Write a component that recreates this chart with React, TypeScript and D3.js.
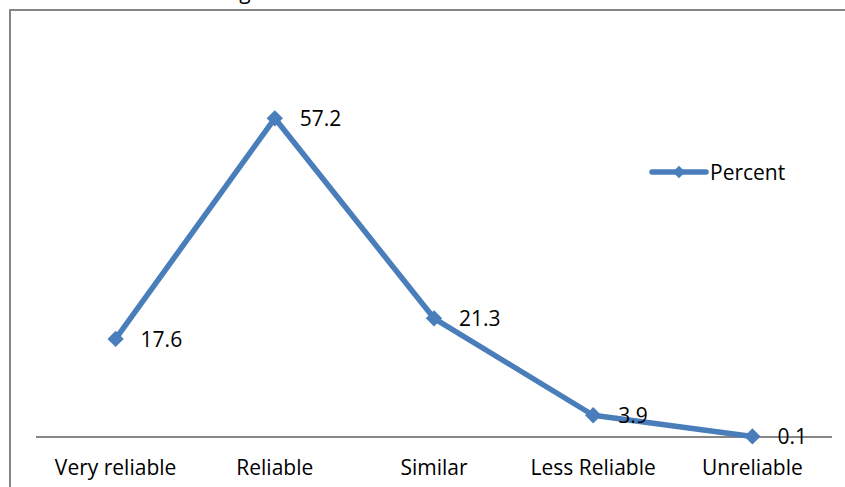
import React from "react";
import * as d3 from "d3";

const categories = ["Very reliable", "Reliable", "Similar", "Less Reliable", "Unreliable"];
const percent = [17.6, 57.2, 21.3, 3.9, 0.1];
const seriesName = "Percent";

const W = 845;
const H = 487;
const BLUE = "#4a7ebb";
const GRAY = "#868686";
const FONT = "'Open Sans', Lato, sans-serif";
const FS = 21;

export default function App() {
  const x = d3.scaleBand<string>().domain(categories).range([36, 832]);
  const y = d3.scaleLinear().domain([0, 70]).range([437, 47]);
  const cx = (c: string) => (x(c) ?? 0) + x.bandwidth() / 2;

  const line = d3
    .line<number>()
    .x((_, i) => cx(categories[i]))
    .y((d) => y(d));

  const diamond = d3.symbol().type(d3.symbolDiamond2).size(170)() as string;

  return (
    <svg
      width={W}
      height={H}
      style={{ position: "absolute", left: 0, top: 0, background: "#fff" }}
      fontFamily={FONT}
    >
      {/* title, clipped by the top edge */}
      <text x={245} y={-1} fontSize={FS} fill="#000" textAnchor="middle">g</text>
      {/* chart frame */}
      <rect x={10} y={10} width={W + 20} height={H + 20} fill="none" stroke={GRAY} strokeWidth={2} />
      {/* category axis */}
      <line x1={x.range()[0]} x2={x.range()[1]} y1={y(0)} y2={y(0)} stroke={GRAY} strokeWidth={2} />
      {categories.map((c) => (
        <text key={c} x={cx(c)} y={475} fontSize={FS} textAnchor="middle" fill="#000">
          {c}
        </text>
      ))}
      <path d={line(percent) ?? ""} fill="none" stroke={BLUE} strokeWidth={5.5} strokeLinejoin="round" />
      {percent.map((v, i) => (
        <path key={i} d={diamond} transform={`translate(${cx(categories[i])},${y(v)})`} fill={BLUE} />
      ))}
      {percent.map((v, i) => (
        <text key={i} x={cx(categories[i]) + 25} y={y(v) + 8} fontSize={FS} fill="#000">
          {v.toFixed(1)}
        </text>
      ))}
      {/* legend */}
      <g transform="translate(652,172)">
        <line x1={0} x2={54} y1={0} y2={0} stroke={BLUE} strokeWidth={5.5} strokeLinecap="round" />
        <path d={d3.symbol().type(d3.symbolDiamond2).size(100)() as string} transform="translate(27,0)" fill={BLUE} />
        <text x={58} y={8} fontSize={FS} fill="#000">{seriesName}</text>
      </g>
    </svg>
  );
}
